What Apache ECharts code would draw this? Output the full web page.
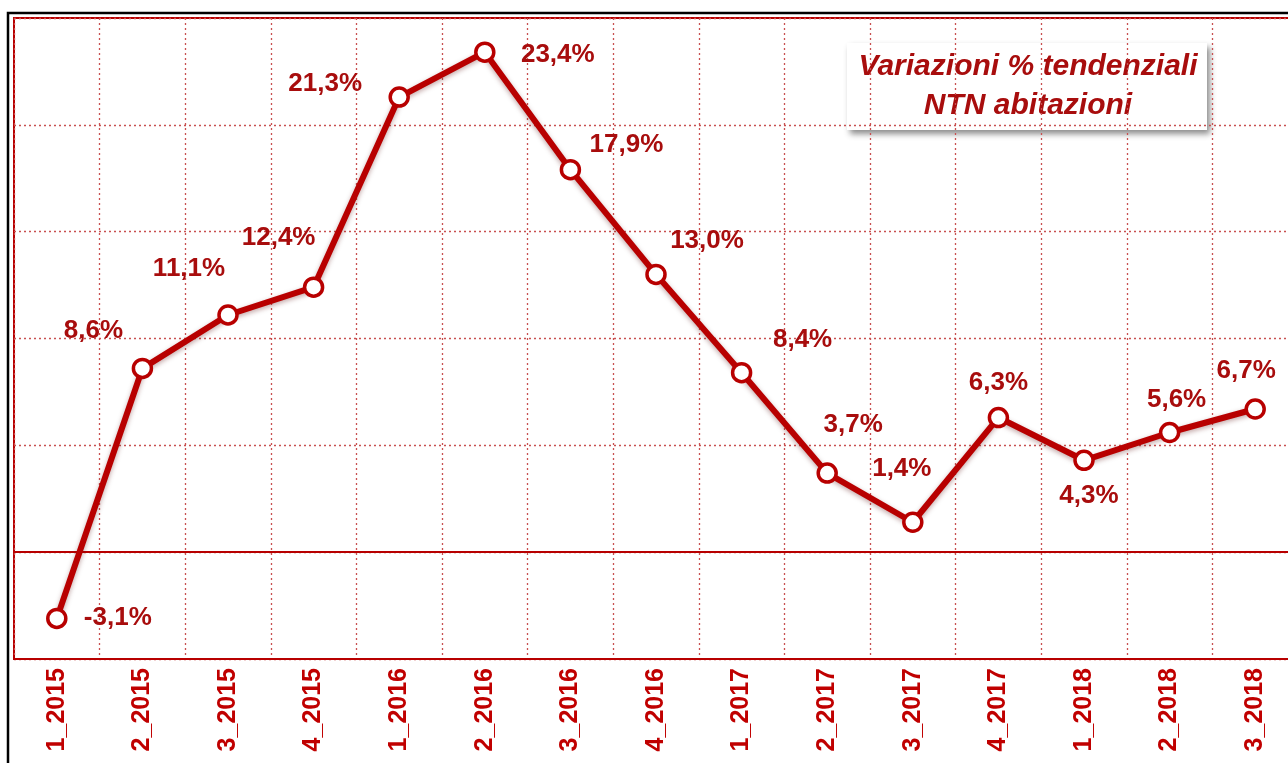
<!DOCTYPE html>
<html>
<head>
<meta charset="utf-8">
<title>Variazioni % tendenziali NTN abitazioni</title>
<script src="https://cdn.jsdelivr.net/npm/echarts@6/dist/echarts.min.js"></script>
<style>
  html, body { margin: 0; padding: 0; background: #fff; }
  #chart { width: 1288px; height: 763px; }
</style>
</head>
<body>
<div id="chart"></div>
<script>
// trimestri
const periods = ['1_2015', '2_2015', '3_2015', '4_2015', '1_2016', '2_2016', '3_2016', '4_2016',
  '1_2017', '2_2017', '3_2017', '4_2017', '1_2018', '2_2018', '3_2018'];
// variazioni % tendenziali NTN abitazioni
const ntnChange = [-3.1, 8.6, 11.1, 12.4, 21.3, 23.4, 17.9, 13.0, 8.4, 3.7, 1.4, 6.3, 4.3, 5.6, 6.7];
const yTicks = [-5, 0, 5, 10, 15, 20, 25];

// spostamento delle etichette rispetto al punto (px)
const labelShift = [[61, -1], [-49, -38], [-39, -46], [-35, -49], [-74, -13], [73, 3], [56, -25],
  [51, -34], [61, -33], [26, -48], [-11, -53], [0, -35], [5, 36], [7, -33], [-9, -38]];

const RED = '#b80000';
const LABEL_RED = '#a80d0d';

let myChart = echarts.init(document.getElementById('chart'));

let seriesData = ntnChange.map((v, i) => ({
  value: v,
  label: { offset: labelShift[i] }
}));

let option = {
  animation: false,
  backgroundColor: '#fff',
  grid: {
    left: 14,
    top: 18,
    width: 1284,
    bottom: 104,
    containLabel: false,
    outerBoundsMode: 'none',
    show: true,
    borderColor: RED,
    borderWidth: 2,
    backgroundColor: 'transparent'
  },
  xAxis: {
    type: 'category',
    data: periods,
    boundaryGap: true,
    axisLine: { onZero: false, lineStyle: { color: RED, width: 2 } },
    axisTick: { show: false },
    axisLabel: {
      rotate: 90,
      margin: 9,
      color: '#c00000',
      fontSize: 25,
      fontWeight: 'bold',
      fontFamily: 'Liberation Sans',
      interval: 0
    },
    splitLine: {
      show: true,
      interval: 0,
      lineStyle: { color: '#c85050', type: [2, 3], width: 1.3 }
    }
  },
  yAxis: {
    type: 'value',
    min: yTicks[0],
    max: yTicks[yTicks.length - 1],
    interval: 5,
    axisLine: { show: false },
    axisTick: { show: false },
    axisLabel: { show: false },
    splitLine: {
      lineStyle: { color: '#c85050', type: [2, 3], width: 1.3 }
    }
  },
  graphic: [
    {
      // cornice esterna nera
      type: 'rect',
      z: 100,
      shape: { x: 8, y: 13, width: 1300, height: 800 },
      style: { fill: 'none', stroke: '#000', lineWidth: 2.5 }
    },
    {
      type: 'group',
      left: 847,
      top: 43,
      z: 50,
      children: [
        {
          type: 'rect',
          shape: { x: 0, y: 0, width: 360, height: 87 },
          style: {
            fill: '#fff',
            shadowBlur: 6,
            shadowOffsetX: 3,
            shadowOffsetY: 4,
            shadowColor: 'rgba(0,0,0,0.45)'
          }
        },
        {
          type: 'text',
          x: 181,
          y: 24,
          style: {
            text: 'Variazioni % tendenziali',
            fill: LABEL_RED,
            font: 'italic bold 30px "Liberation Sans"',
            align: 'center',
            verticalAlign: 'middle'
          }
        },
        {
          type: 'text',
          x: 181,
          y: 63,
          style: {
            text: 'NTN abitazioni',
            fill: LABEL_RED,
            font: 'italic bold 30px "Liberation Sans"',
            align: 'center',
            verticalAlign: 'middle'
          }
        }
      ]
    }
  ],
  series: [
    {
      // linea dello zero
      type: 'line',
      z: 1,
      data: [],
      markLine: {
        silent: true,
        symbol: 'none',
        label: { show: false },
        lineStyle: { color: RED, type: 'solid', width: 2 },
        data: [{ yAxis: 0 }]
      }
    },
    {
      name: 'NTN abitazioni',
      type: 'line',
      z: 5,
      data: seriesData,
      symbol: 'circle',
      symbolSize: 18,
      lineStyle: {
        color: RED,
        width: 6,
        shadowColor: 'rgba(80,0,0,0.35)',
        shadowBlur: 5,
        shadowOffsetY: 2
      },
      itemStyle: {
        color: '#fff',
        borderColor: RED,
        borderWidth: 3.5
      },
      label: {
        show: true,
        position: 'inside',
        color: LABEL_RED,
        fontSize: 26,
        fontWeight: 'bold',
        fontFamily: 'Liberation Sans',
        formatter: p => p.value.toFixed(1).replace('.', ',') + '%'
      }
    }
  ]
};

myChart.setOption(option);
</script>
</body>
</html>
